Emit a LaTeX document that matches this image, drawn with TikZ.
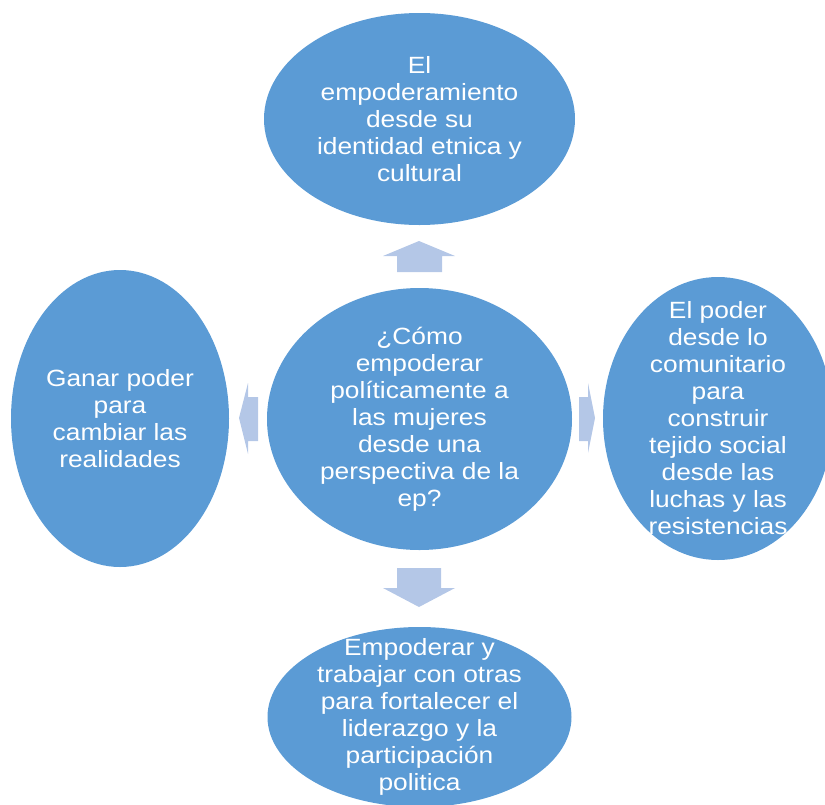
\documentclass[tikz,border=0pt]{standalone}
\usepackage{fontspec}
\newfontfamily\bubblefont{Liberation Sans}[FakeStretch=1.12]
\usepackage{tikz}
\usetikzlibrary{shapes.geometric}
\definecolor{bubbleblue}{RGB}{91,155,213}
\definecolor{arrowblue}{RGB}{180,199,231}

\begin{document}
\begin{tikzpicture}[x=1pt,y=-1pt,
	bubble/.style={ellipse, fill=bubbleblue, inner sep=0pt},
	txt/.style={align=center, text=white, inner sep=0pt, font=\bubblefont\fontsize{23.5}{27}\selectfont},
	blockarrow/.style={fill=arrowblue}]
		%\draw [help lines] (0,0) grid (825,804);
		\useasboundingbox (0,0) rectangle (825,804);

		\node [bubble, minimum width=311, minimum height=212] (top) at (419.5,119) {};
		\node [bubble, minimum width=305, minimum height=262] (ctr) at (419.5,419) {};
		\node [bubble, minimum width=218, minimum height=297] (left) at (120,418.5) {};
		\node [bubble, minimum width=230, minimum height=283] (right) at (718,418.5) {};
		\node [bubble, minimum width=304, minimum height=180] (bottom) at (419.5,717) {};

		\node [txt] (topText) at (top) {El\\empoderamiento\\desde su\\identidad etnica y\\cultural};
		\node [txt] (ctrText) at (ctr) {¿Cómo\\empoderar\\políticamente a\\las mujeres\\desde una\\perspectiva de la\\ep?};
		\node [txt] (leftText) at (left) {Ganar poder\\para\\cambiar las\\realidades};
		\node [txt] (rightText) at (right) {El poder\\desde lo\\comunitario\\para\\construir\\tejido social\\desde las\\luchas y las\\resistencias};
		\node [txt] (bottomText) at (bottom) {Empoderar y\\trabajar con otras\\para fortalecer el\\liderazgo y la\\participación\\politica};

		\fill [blockarrow] (397,272) -- (397,256) -- (383,256) -- (419,241) -- (455,256) -- (442,256) -- (442,272) -- cycle;
		\fill [blockarrow] (397,568) -- (397,588) -- (383,588) -- (419,607) -- (455,588) -- (441,588) -- (441,568) -- cycle;
		\fill [blockarrow] (258,397) -- (248,397) -- (248,383) -- (239,418) -- (248,454) -- (248,441) -- (258,441) -- cycle;
		\fill [blockarrow] (579,397) -- (588,397) -- (588,383) -- (595,418) -- (588,453) -- (588,441) -- (579,441) -- cycle;
	\end{tikzpicture}
\end{document}
